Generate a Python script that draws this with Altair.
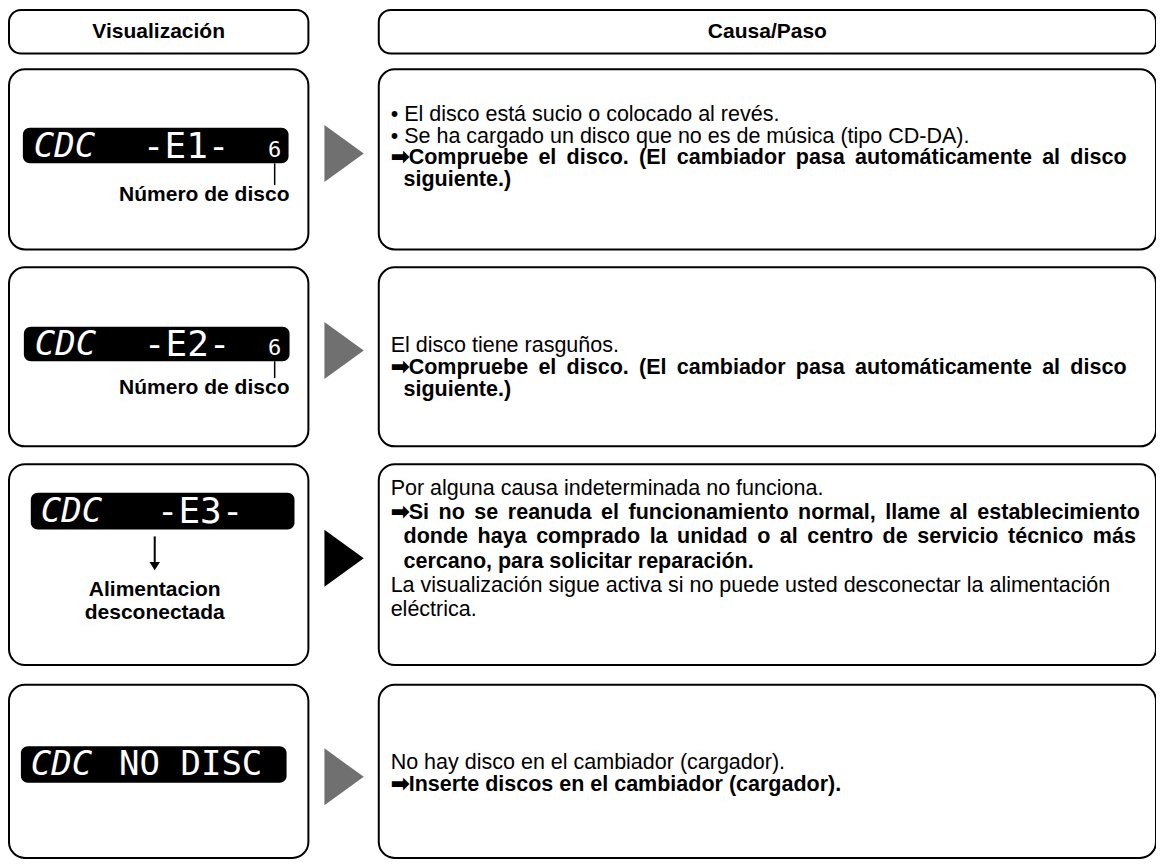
import altair as alt
import pandas as pd

# ---------------- content ----------------
header_texts = ["Visualización", "Causa/Paso"]

lcd_prefix = ["CDC", "CDC", "CDC", "CDC"]
lcd_code = ["-E1-", "-E2-", "-E3-", "NO DISC"]
lcd_disc = ["6", "6", "", ""]

left_labels = [
    ["Número de disco"],
    ["Número de disco"],
    ["Alimentacion", "desconectada"],
    [],
]

arrow_tone = ["#707070", "#707070", "#000000", "#707070"]

THIN, SIXTH, HAIR = "\u2009", "\u2006", "\u200a"

# (text, bold, indent, extra space added to every word gap to justify the line)
cause_lines = [
    [
        ("\u2022 El disco está sucio o colocado al revés.", False, 0, ""),
        ("\u2022 Se ha cargado un disco que no es de música (tipo CD-DA).", False, 0, ""),
        ("\u27a1Compruebe el disco. (El cambiador pasa automáticamente al disco", True, 0, THIN),
        ("siguiente.)", True, 1, ""),
    ],
    [
        ("El disco tiene rasguños.", False, 0, ""),
        ("\u27a1Compruebe el disco. (El cambiador pasa automáticamente al disco", True, 0, THIN),
        ("siguiente.)", True, 1, ""),
    ],
    [
        ("Por alguna causa indeterminada no funciona.", False, 0, ""),
        ("\u27a1Si no se reanuda el funcionamiento normal, llame al establecimiento", True, 0, SIXTH),
        ("donde haya comprado la unidad o al centro de servicio técnico más", True, 1, SIXTH),
        ("cercano, para solicitar reparación.", True, 1, ""),
        ("La visualización sigue activa si no puede usted desconectar la alimentación", False, 0, ""),
        ("eléctrica.", False, 0, ""),
    ],
    [
        ("No hay disco en el cambiador (cargador).", False, 0, ""),
        ("\u27a1Inserte discos en el cambiador (cargador).", True, 0, ""),
    ],
]

# ---------------- layout (page pixels of the reference) ----------------
LEFT_X = (5, 307)
RIGHT_X = (378, 1162)
HEADER_Y = (8, 52)
ROW_Y = [(68, 250), (268, 449), (467, 670), (690, 865)]
LCD_BOX = [(19, 287, 127, 163), (20, 288, 328, 363), (27, 293, 496, 533), (17, 285, 752, 789)]
LCD_PREFIX_X = [30, 31, 37, 27]
LCD_CODE_X = [140, 141, 154, 116]
LCD_CODE_SIZE = [36, 36, 36, 34]
DISC_X = 273
ARROW_X = 343
ARROW_Y = [153, 352, 562, 783]
TEXT_X = 390
INDENT = 13
LINE_START = [114, 348, 492, 769]
LINE_STEP = [22, 22, 24.5, 22]
LABEL_X = [202, 202, 152, 152]
LABEL_Y0 = [195, 390, 594, 0]

FONT = "Liberation Sans, Arial, Helvetica, sans-serif"
FS = 21.5
LCD_FONT = "DejaVu Sans Mono, monospace"

xs = alt.Scale(domain=[4, 1162], nice=False, zero=False)
ys = alt.Scale(domain=[866, 6], nice=False, zero=False)


def X(f="x"):
    return alt.X(f"{f}:Q", scale=xs, axis=None)


def Y(f="y"):
    return alt.Y(f"{f}:Q", scale=ys, axis=None)


# boxes
hdr = pd.DataFrame([
    dict(x=LEFT_X[0], x2=LEFT_X[1], y=HEADER_Y[0], y2=HEADER_Y[1]),
    dict(x=RIGHT_X[0], x2=RIGHT_X[1], y=HEADER_Y[0], y2=HEADER_Y[1]),
])
rows = []
for (t, b) in ROW_Y:
    rows.append(dict(x=LEFT_X[0], x2=LEFT_X[1], y=t, y2=b))
    rows.append(dict(x=RIGHT_X[0], x2=RIGHT_X[1], y=t, y2=b))
rows = pd.DataFrame(rows)

hdr_layer = alt.Chart(hdr).mark_rect(
    fill="white", stroke="black", strokeWidth=2, cornerRadius=12
).encode(x=X(), x2="x2:Q", y=Y(), y2="y2:Q")
row_layer = alt.Chart(rows).mark_rect(
    fill="white", stroke="black", strokeWidth=2, cornerRadius=16
).encode(x=X(), x2="x2:Q", y=Y(), y2="y2:Q")

hdr_txt = pd.DataFrame(dict(
    x=[sum(LEFT_X) / 2, sum(RIGHT_X) / 2],
    y=[sum(HEADER_Y) / 2] * 2,
    t=header_texts,
))
hdr_txt_layer = alt.Chart(hdr_txt).mark_text(
    font=FONT, fontSize=21, fontWeight="bold", baseline="middle", align="center", color="black"
).encode(x=X(), y=Y(), text="t:N")

# LCD displays
lcd = pd.DataFrame([dict(x=a, x2=b, y=c, y2=d) for (a, b, c, d) in LCD_BOX])
lcd_layer = alt.Chart(lcd).mark_rect(fill="black", cornerRadius=7).encode(
    x=X(), x2="x2:Q", y=Y(), y2="y2:Q")

lcd_mid = [(c + d) / 2 for (a, b, c, d) in LCD_BOX]
pref = pd.DataFrame(dict(x=LCD_PREFIX_X, y=[m + 1 for m in lcd_mid], t=lcd_prefix))
pref_layer = alt.Chart(pref).mark_text(
    font=LCD_FONT, fontSize=34, fontStyle="italic", align="left", baseline="middle", color="white"
).encode(x=X(), y=Y(), text="t:N")
code = pd.DataFrame(dict(x=LCD_CODE_X, y=[m + 1 for m in lcd_mid], t=lcd_code, s=LCD_CODE_SIZE))
code_layer = alt.Chart(code).mark_text(
    font=LCD_FONT, align="left", baseline="middle", color="white"
).encode(x=X(), y=Y(), text="t:N", size=alt.Size("s:Q", scale=None))
disc = pd.DataFrame(dict(x=[DISC_X] * 4, y=[m + 4 for m in lcd_mid], t=lcd_disc))
disc = disc[disc.t != ""]
disc_layer = alt.Chart(disc).mark_text(
    font=LCD_FONT, fontSize=22, align="center", baseline="middle", color="white"
).encode(x=X(), y=Y(), text="t:N")

# pointer lines from the disc number to its label
ticks = pd.DataFrame([
    dict(x=DISC_X, y=LCD_BOX[i][3], y2=LABEL_Y0[i] - 10) for i in range(4) if lcd_disc[i]
])
tick_layer = alt.Chart(ticks).mark_rule(color="black", strokeWidth=1.5).encode(
    x=X(), y=Y(), y2="y2:Q")

# down arrow for row 3
down = pd.DataFrame([dict(x=LABEL_X[2], y=LCD_BOX[2][3] + 7, y2=LCD_BOX[2][3] + 36)])
down_rule = alt.Chart(down).mark_rule(color="black", strokeWidth=2).encode(x=X(), y=Y(), y2="y2:Q")
down_head = alt.Chart(down).mark_point(
    shape="M-1,-0.6L1,-0.6L0,1Z", size=110, filled=True, color="black", opacity=1
).encode(x=X(), y=Y("y2"))

# left labels
lab = []
for i, labels in enumerate(left_labels):
    for j, t in enumerate(labels):
        lab.append(dict(x=LABEL_X[i], y=LABEL_Y0[i] + j * 23.5, t=t))
lab = pd.DataFrame(lab)
lab_layer = alt.Chart(lab).mark_text(
    font=FONT, fontSize=21, fontWeight="bold", align="center", baseline="middle", color="black"
).encode(x=X(), y=Y(), text="t:N")

# big right-pointing arrows
arr = pd.DataFrame(dict(x=[ARROW_X] * 4, y=ARROW_Y, c=arrow_tone))
arr_layer = alt.Chart(arr).mark_point(
    shape="M-0.69,-1L0.69,0L-0.69,1Z", size=57 * 57, filled=True, opacity=1
).encode(x=X(), y=Y(), color=alt.Color("c:N", scale=None))


# cause / step text; justified lines get the same extra space in every word gap
def justify(text, extra):
    if not extra:
        return text
    return (" " + extra).join(text.split(" "))


reg, bold = [], []
for i, lines in enumerate(cause_lines):
    for j, (t, b, ind, k) in enumerate(lines):
        rec = dict(x=TEXT_X + ind * INDENT, y=LINE_START[i] + j * LINE_STEP[i], t=justify(t, k))
        (bold if b else reg).append(rec)
reg_layer = alt.Chart(pd.DataFrame(reg)).mark_text(
    font=FONT, fontSize=FS, align="left", baseline="middle", color="black"
).encode(x=X(), y=Y(), text="t:N")
bold_layer = alt.Chart(pd.DataFrame(bold)).mark_text(
    font=FONT, fontSize=FS, fontWeight="bold", align="left", baseline="middle", color="black"
).encode(x=X(), y=Y(), text="t:N")

chart = alt.layer(
    hdr_layer, row_layer, hdr_txt_layer, lcd_layer, pref_layer, code_layer, disc_layer,
    tick_layer, down_rule, down_head, lab_layer, arr_layer, reg_layer, bold_layer,
).properties(
    width=1148, height=851, padding=0, autosize="none", background="white"
).configure_view(stroke=None)

chart.save("out.html", embed_options={"renderer": "svg", "actions": False})
